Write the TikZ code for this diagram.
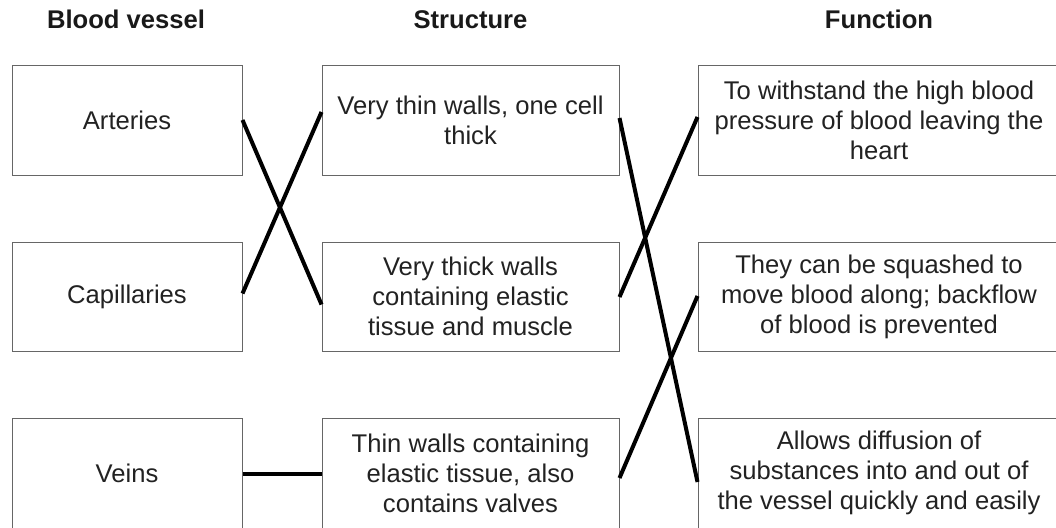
\documentclass[tikz,border=0pt]{standalone}
\usepackage{fontspec}
\setmainfont{Liberation Sans}
\usetikzlibrary{calc}
\definecolor{boxgray}{HTML}{666666}
\definecolor{txt}{HTML}{222222}
\begin{document}
\begin{tikzpicture}[x=1pt,y=1pt,
  cell/.style={draw=boxgray,line width=1pt,fill=white,inner sep=0pt,align=center,
    text=txt,font=\fontsize{25.6}{30}\selectfont},
  c1/.style={cell,minimum width=230pt},
  c2/.style={cell,minimum width=297pt},
  c3/.style={cell,minimum width=362pt},
  head/.style={anchor=base,font=\fontsize{25.6}{30}\selectfont\bfseries,text=black!90},
  link/.style={line width=4pt,black}]
\useasboundingbox (0,0) rectangle (1056,-527);
\clip (0,0) rectangle (1056,-527);
\node[head] (h1) at (126,-29) {Blood vessel};
\node[head] (h2) at (470.5,-29) {Structure};
\node[head] (h3) at (879,-29) {Function};
% column 1
\node[c1,minimum height=110pt] (art) at (127,-120) {Arteries};
\node[c1,minimum height=109pt] (cap) at (127,-296.5) {Capillaries};
\node[c1,minimum height=110pt] (vei) at (127,-473) {Veins};
% column 2
\node[c2,minimum height=110pt] (s1) at (470.5,-120) {Very thin walls, one cell\\thick};
\node[c2,minimum height=109pt] (s2) at (470.5,-296.5) {Very thick walls\\containing elastic\\tissue and muscle};
\node[c2,minimum height=110pt] (s3) at (470.5,-473) {Thin walls containing\\elastic tissue, also\\contains valves};
% column 3
\node[c3,minimum height=110pt] (f1) at (879,-120) {To withstand the high blood\\pressure of blood leaving the\\heart};
\node[c3,minimum height=109pt] (f2) at (879,-296.5) {They can be squashed to\\move blood along; backflow\\of blood is prevented};
\node[c3,minimum height=110pt] (f3) at (879,-473) {Allows diffusion of\\substances into and out of\\the vessel quickly and easily};
% connectors
\draw[link] (art.east) -- ([yshift=-8pt]s2.west);
\draw[link] ([yshift=3pt]cap.east) -- ([yshift=8pt]s1.west);
\draw[link] ([yshift=-1pt]vei.east) -- ([yshift=-1pt]s3.west);
\draw[link] ([yshift=2pt]s1.east) -- ([yshift=-9pt]f3.west);
\draw[link] ([yshift=-0.5pt]s2.east) -- ([yshift=3pt]f1.west);
\draw[link] ([yshift=-5pt]s3.east) -- ([yshift=0.5pt]f2.west);
\end{tikzpicture}
\end{document}
